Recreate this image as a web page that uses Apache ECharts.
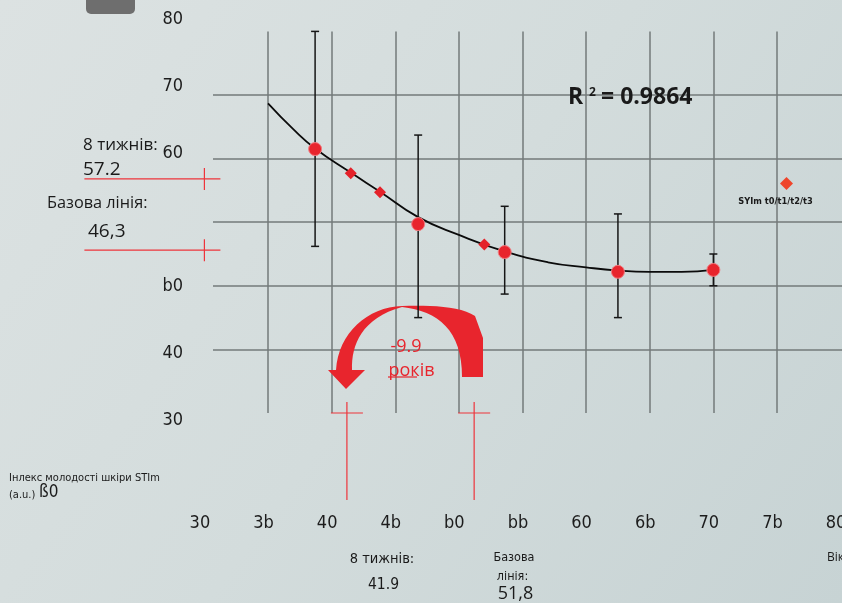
<!DOCTYPE html>
<html><head><meta charset="utf-8">
<script src="https://cdn.jsdelivr.net/npm/echarts@6/dist/echarts.min.js"></script>
<style>html,body{margin:0;padding:0;background:#d5dddd;}#c{width:842px;height:603px;}</style>
</head><body><div id="c"></div>
<script>
// ---- data ----
const xTickLabels = ['30','3b','40','4b','b0','bb','60','6b','70','7b','80'];
const yTickLabels = ['30','40','b0','','60','70','80']; // bottom to top
const ageMeans  = [38.7, 46.8, 53.6, 62.5, 70.0];
const stimMeans = [61.5, 49.7, 45.3, 42.2, 42.5];
const stimLow   = [46.2, 35.0, 38.7, 35.0, 40.0];
const stimHigh  = [80.0, 63.7, 52.5, 51.3, 45.0];
const diamondAges = [41.5, 43.8, 52.0];
const diamondStim = [57.7, 54.7, 46.5];
const fitAges = [35.0, 37.0, 38.7, 41.5, 43.8, 46.8, 50.0, 53.6, 57.0, 60.0, 62.5, 65.0, 67.5, 70.0];
const fitStim = [68.7, 64.6, 61.6, 57.8, 54.8, 50.8, 48.0, 45.4, 43.7, 42.9, 42.4, 42.2, 42.2, 42.5];
const yMarkValues = [56.8, 45.6];
const xMarkValues = [41.2, 51.2];
const legendName = 'SYIm t0/t1/t2/t3';
const r2Text = '= 0.9864';

const NARROW = '"Liberation Sans Narrow", "DejaVu Sans Condensed", sans-serif';
const SANS = '"Open Sans", "Noto Sans", sans-serif';
const RED = '#e8252d';
const GRIDC = '#737a7a';

const chart = echarts.init(document.getElementById('c'), null, {renderer: 'canvas'});

const option = {
  animation: false,
  grid: [
    {left: 204.4, right: 1.4, top: 31.4, bottom: 190, outerBoundsMode: 'none'},
    {left: 191, width: 10, top: 19, bottom: 182.5, outerBoundsMode: 'none'},
    {left: 213, right: 0, top: 31.4, bottom: 190, outerBoundsMode: 'none'}
  ],
  xAxis: [
    {gridIndex: 0, type: 'value', min: 30, max: 80, interval: 5,
     axisLine: {show: false}, axisTick: {show: false},
     splitLine: {show: true, showMinLine: false, showMaxLine: false, lineStyle: {color: GRIDC, width: 1.5}},
     axisLabel: {margin: 101, showMinLabel: true, showMaxLabel: true, fontFamily: NARROW, fontSize: 18, color: '#1c1c1c',
       padding: [0, 9, 0, 0],
       formatter: v => xTickLabels[Math.round((v - 30) / 5)]}},
    {gridIndex: 1, type: 'value', show: false, min: 0, max: 1},
    {gridIndex: 2, type: 'value', show: false, min: 0, max: 1}
  ],
  yAxis: [
    {gridIndex: 0, type: 'value', min: 20, max: 80, interval: 10,
     axisLine: {show: false}, axisTick: {show: false}, axisLabel: {show: false}, splitLine: {show: false}},
    {gridIndex: 1, type: 'category', data: yTickLabels, boundaryGap: false,
     axisLine: {show: false}, axisTick: {show: false}, splitLine: {show: false},
     axisLabel: {interval: 0, margin: 8, fontFamily: NARROW, fontSize: 18, color: '#1c1c1c'}},
    {gridIndex: 2, type: 'value', min: 20, max: 80, interval: 10,
     axisLine: {show: false}, axisTick: {show: false}, axisLabel: {show: false},
     splitLine: {show: true, showMinLine: false, showMaxLine: false, lineStyle: {color: GRIDC, width: 1.6}}}
  ],
  legend: {
    left: 780, top: 177, padding: 0, itemWidth: 13, itemHeight: 13, selectedMode: false,
    formatter: () => '',
    data: [{name: legendName, icon: 'diamond', itemStyle: {color: '#ef452b'}}]
  },
  series: [
    {type: 'line', name: 'fit', xAxisIndex: 0, yAxisIndex: 0, smooth: true, showSymbol: false, symbol: 'none',
     lineStyle: {color: '#0b0b0b', width: 1.8}, z: 3,
     data: fitAges.map((a, i) => [a, fitStim[i]])},
    {type: 'custom', name: 'err', xAxisIndex: 0, yAxisIndex: 0, z: 4,
     encode: {x: 0, y: [1, 2]},
     data: ageMeans.map((a, i) => [a, stimLow[i], stimHigh[i]]),
     renderItem: function (params, api) {
       const x = api.value(0);
       const lo = api.coord([x, api.value(1)]);
       const hi = api.coord([x, api.value(2)]);
       const cap = 4;
       const style = {stroke: '#161616', lineWidth: 1.5};
       return {type: 'group', children: [
         {type: 'line', shape: {x1: lo[0], y1: lo[1], x2: hi[0], y2: hi[1]}, style: style},
         {type: 'line', shape: {x1: lo[0] - cap, y1: lo[1], x2: lo[0] + cap, y2: lo[1]}, style: style},
         {type: 'line', shape: {x1: hi[0] - cap, y1: hi[1], x2: hi[0] + cap, y2: hi[1]}, style: style}
       ]};
     }},
    {type: 'scatter', name: 'means', xAxisIndex: 0, yAxisIndex: 0, z: 5, symbolSize: 13,
     itemStyle: {color: RED, borderColor: '#f27b80', borderWidth: 1, opacity: 1},
     data: ageMeans.map((a, i) => [a, stimMeans[i]])},
    {type: 'scatter', name: legendName, xAxisIndex: 0, yAxisIndex: 0, z: 5, symbol: 'diamond', symbolSize: 12,
     itemStyle: {color: '#e4222a', opacity: 1},
     data: diamondAges.map((a, i) => [a, diamondStim[i]])}
  ]
};
chart.setOption(option);

// ---- annotations (decoration) ----
const toPx = (x, y) => chart.convertToPixel({gridIndex: 0}, [x, y]);
const lineStyleRed = {stroke: '#ee343b', lineWidth: 1.2};
const g = [];
g.push({type: 'rect', z: -10, shape: {x: 0, y: 0, width: 842, height: 603},
  style: {fill: {type: 'linear', x: 0, y: 0, x2: 1, y2: 1, colorStops: [
    {offset: 0, color: '#dce2e2'}, {offset: 0.5, color: '#d3dcdc'}, {offset: 1, color: '#c7d3d4'}]}}});
g.push({type: 'rect', z: 1, shape: {x: 86, y: -8, width: 49, height: 22, r: 5}, style: {fill: '#6e6e6e'}});

yMarkValues.forEach(v => {
  const p = toPx(30, v);
  g.push({type: 'line', z: 1, shape: {x1: p[0] - 120, y1: p[1], x2: p[0] + 16, y2: p[1]}, style: lineStyleRed});
  g.push({type: 'line', z: 1, shape: {x1: p[0], y1: p[1] - 11, x2: p[0], y2: p[1] + 11}, style: lineStyleRed});
});
xMarkValues.forEach(v => {
  const p = toPx(v, 20);
  g.push({type: 'line', z: 1, shape: {x1: p[0], y1: p[1] - 11, x2: p[0], y2: p[1] + 87}, style: lineStyleRed});
  g.push({type: 'line', z: 1, shape: {x1: p[0] - 16, y1: p[1], x2: p[0] + 16, y2: p[1]}, style: lineStyleRed});
});

// curved arrow outline (decoration), sampled from cubic curves
function bez(p0, p1, p2, p3, n) {
  const out = [];
  for (let i = 1; i <= n; i++) {
    const t = i / n, u = 1 - t;
    out.push([
      u*u*u*p0[0] + 3*u*u*t*p1[0] + 3*u*t*t*p2[0] + t*t*t*p3[0],
      u*u*u*p0[1] + 3*u*u*t*p1[1] + 3*u*t*t*p2[1] + t*t*t*p3[1]]);
  }
  return out;
}
const arrowPts = [[328,370],[346,389],[365,370],[352,370]]
  .concat(bez([352,370],[351,345],[362,318],[402,307], 16))
  .concat(bez([402,307],[438,311],[462,330],[462,377], 16))
  .concat([[483,377],[483,338],[475,316]])
  .concat(bez([475,316],[460,306],[430,305],[402,306], 12))
  .concat(bez([402,306],[368,307],[338,333],[336,370], 16));
g.push({type: 'polygon', z: 1, shape: {points: arrowPts}, style: {fill: RED}});

function txt(x, y, text, size, font, opts) {
  opts = opts || {};
  g.push({type: 'text', z: 6, x: x, y: y, style: Object.assign({
    text: text, fontSize: size, fontFamily: font, fill: '#1a1a1a',
    align: 'left', verticalAlign: 'middle'}, opts)});
}
txt(83, 145, '8 тижнів:', 17, SANS);
txt(83, 170, '57.2', 19, SANS);
txt(47, 203.5, 'Базова лінія:', 16.3, SANS);
txt(88, 232, '46,3', 19, SANS);

txt(406, 347, '-9.9', 18, SANS, {fill: RED, align: 'center'});
txt(411.5, 370.5, 'років', 18, SANS, {fill: RED, align: 'center'});
g.push({type: 'line', z: 6, shape: {x1: 388, y1: 377, x2: 417, y2: 377}, style: {stroke: RED, lineWidth: 1.2}});

txt(568, 97, 'R', 23, SANS, {fontWeight: 'bold'});
txt(589, 93, '2', 12, SANS, {fontWeight: 'bold'});
txt(601, 97, r2Text, 23, SANS, {fontWeight: 'bold'});

txt(775.5, 201.5, legendName, 9.2, NARROW, {fontWeight: 'bold', align: 'center'});

txt(9, 478, 'Інлекс молодості шкіри STIm', 11, NARROW);
txt(9, 495, '(a.u.)', 11, NARROW);
txt(39, 493, 'ß0', 17, NARROW);

txt(382, 559.5, '8 тижнів:', 14.5, NARROW, {align: 'center'});
txt(383.5, 584.5, '41.9', 15.5, NARROW, {align: 'center'});
txt(514, 557.5, 'Базова', 12.5, NARROW, {align: 'center'});
txt(512.5, 577, 'лінія:', 12.5, NARROW, {align: 'center'});
txt(515.5, 594, '51,8', 18, SANS, {align: 'center'});
txt(827, 557.5, 'Вік', 12, SANS);

chart.setOption({graphic: {elements: g}});
</script>
</body></html>
